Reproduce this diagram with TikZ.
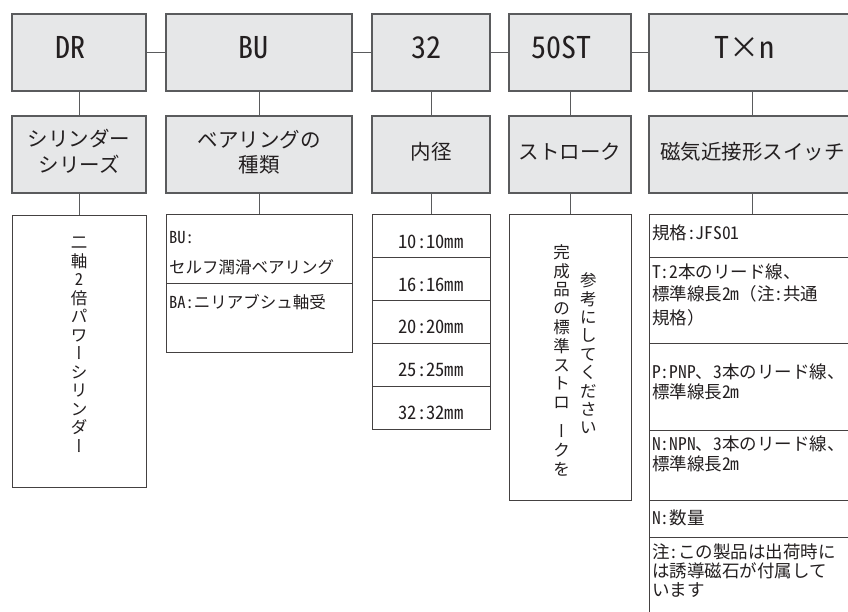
\documentclass[tikz,border=0pt]{standalone}
\usepackage{fontspec}
\usepackage{graphicx}
\setmainfont{Noto Sans CJK JP}
\newfontfamily\hwfont{Noto Sans CJK JP}[RawFeature=+hwid]
\newfontfamily\fwfont{Noto Sans CJK JP}[RawFeature=+fwid]
\newfontfamily\vtfont{Noto Sans CJK JP}[RawFeature=+vert]
\newcommand\hw[1]{{\hwfont #1}}
\newcommand\vchoon{{\vtfont ー}}
\definecolor{boxgray}{HTML}{E6E7E8}
\definecolor{edge}{HTML}{5A5B5D}
\definecolor{ink}{HTML}{231F20}
\begin{document}
\begin{tikzpicture}[x=1pt,y=-1pt,
  gbox/.style={draw=edge,fill=boxgray,line width=1.1pt,inner sep=0pt,outer sep=0pt,anchor=north west,minimum height=77pt},
  wbox/.style={draw=ink!85,fill=white,line width=1pt,inner sep=0pt,outer sep=0pt,anchor=north west},
  conn/.style={draw=edge,line width=1pt},
  divl/.style={draw=ink!85,line width=1pt},
  codet/.style={text=ink,inner sep=0pt,font=\fontsize{30}{32}\selectfont},
  namet/.style={text=ink,inner sep=0pt,align=center,font=\fontsize{20.5}{25.5}\selectfont},
  ln/.style={text=ink,inner sep=0pt,anchor=base west,font=\fontsize{17.5}{20}\selectfont},
  lnb/.style={text=ink,inner sep=0pt,anchor=base west,font=\fontsize{16.5}{20}\selectfont},
  dia/.style={text=ink,inner sep=0pt,font=\fontsize{18.5}{20}\selectfont},
  vstack/.style={text=ink,inner sep=0pt,align=center}]
\fill[white] (0,0) rectangle (848,611);
\clip (0,0) rectangle (848,611);
% top row
\node[gbox,minimum width=134pt] (dr) at (12,14) {};
\node[gbox,minimum width=186pt] (bu) at (166,14) {};
\node[gbox,minimum width=118pt] (bore) at (372,14) {};
\node[gbox,minimum width=122pt] (st) at (509,14) {};
\node[gbox,minimum width=207pt] (sw) at (649,14) {};
% second row
\node[gbox,minimum width=134pt] (drn) at (12,116) {};
\node[gbox,minimum width=186pt] (bun) at (166,116) {};
\node[gbox,minimum width=118pt] (boren) at (372,116) {};
\node[gbox,minimum width=122pt] (stn) at (509,116) {};
\node[gbox,minimum width=207pt] (swn) at (649,116) {};
% third row
\node[wbox,minimum width=134pt,minimum height=272pt] (drd) at (12,215) {};
\node[wbox,minimum width=186pt,minimum height=138pt] (bud) at (166,214) {};
\node[wbox,minimum width=118pt,minimum height=215.5pt] (bored) at (372,214) {};
\node[wbox,minimum width=122pt,minimum height=286pt] (std) at (509,214) {};
\node[wbox,minimum width=207pt,minimum height=420pt] (swd) at (649,214) {};
% dividers
\draw[divl] (166,283.3) -- (352,283.3);
\foreach \yy in {257,300,343,386.5} \draw[divl] (372,\yy) -- (490,\yy);
\foreach \yy in {257,343,430,500,537} \draw[divl] (649,\yy) -- (856,\yy);
% connectors
\draw[conn] (dr.east) -- (bu.west);
\draw[conn] (bu.east) -- (bore.west);
\draw[conn] (bore.east) -- (st.west);
\draw[conn] (st.east) -- (sw.west);
\foreach \a/\b in {dr/drn,bu/bun,bore/boren,st/stn,sw/swn} \draw[conn] (\a.south) -- (\b.north);
\foreach \a/\b in {drn/drd,bun/bud,boren/bored,stn/std,swn/swd} \draw[conn] (\a.south) -- (\b.north);
% top texts
\node[codet] (drt) at ([xshift=-9pt,yshift=5pt]dr.center) {\hw{DR}};
\node[codet] (but) at ([xshift=-6pt,yshift=5pt]bu.center) {\hw{BU}};
\node[codet] (boret) at ([xshift=-5pt,yshift=5pt]bore.center) {\hw{32}};
\node[codet] (stt) at ([xshift=-9pt,yshift=5pt]st.center) {\hw{50ST}};
\node[codet] (swt) at ([xshift=-8pt,yshift=5pt]sw.center) {\hw{T}{\fwfont ×}\hw{n}};
% second row texts
\node[namet] (drnt) at ([yshift=3pt]drn.center) {シリンダー\\シリーズ};
\node[namet] (bunt) at ([yshift=2.5pt]bun.center) {ベアリングの\\種類};
\node[namet] (borent) at ([yshift=2.5pt]boren.center) {内径};
\node[namet] (stnt) at ([yshift=2.5pt]stn.center) {ストローク};
\node[namet] (swnt) at ([yshift=2.5pt]swn.center) {磁気近接形スイッチ};
% DR detail (vertical)
\node[vstack,font={\fontsize{16.5}{18.5}\selectfont\lineskiplimit=-50pt}] (drdt) at (79,345)
  {二\\軸\\\hw{2}\\倍\\パ\\ワ\\\vchoon\\シ\\リ\\ン\\ダ\\\vchoon};
% BU detail
\node[lnb] (b1) at (169,243) {\hw{BU:}};
\node[lnb] (b2) at (169,273) {セルフ潤滑ベアリング};
\node[lnb] (b3) at (169,308) {\hw{BA:}ニリアブシュ軸受};
% bore detail
\node[dia] (c1) at (431,241.5) {\hw{10:10mm}};
\node[dia] (c2) at (431,284.5) {\hw{16:16mm}};
\node[dia] (c3) at (431,327) {\hw{20:20mm}};
\node[dia] (c4) at (431,370) {\hw{25:25mm}};
\node[dia] (c5) at (431,412.5) {\hw{32:32mm}};
% stroke detail (vertical)
\node[vstack,font={\fontsize{16.5}{18.8}\selectfont\lineskiplimit=-50pt}] (stl) at (561.5,360.2)
  {完\\成\\品\\の\\標\\準\\ス\\ト\\ロ\\[10pt]\vchoon\\ク\\を};
\node[vstack,font={\fontsize{16.5}{18.4}\selectfont\lineskiplimit=-50pt}] (str) at (588.3,353.4)
  {参\\考\\に\\し\\て\\く\\だ\\さ\\い};
% switch detail
\node[ln] (e1) at (652,239.6) {規格\hw{:JFS01}};
\node[ln] (e2) at (652,278.1) {\hw{T:2}本のリード線、};
\node[ln] (e3) at (652,300.6) {標準線長\hw{2m}（注\hw{:}共通};
\node[ln] (e4) at (652,324.6) {規格）};
\node[ln] (e5) at (652,378.6) {\hw{P:PNP}、\hw{3}本のリード線、};
\node[ln] (e6) at (652,398.6) {標準線長\hw{2m}};
\node[ln] (e7) at (652,450.6) {\hw{N:NPN}、\hw{3}本のリード線、};
\node[ln] (e8) at (652,470.6) {標準線長\hw{2m}};
\node[ln] (e9) at (652,524.6) {\hw{N:}数量};
\node[ln] (e10) at (652,558.6) {注\hw{:}この製品は出荷時に};
\node[ln] (e11) at (652,577.6) {は誘導磁石が付属して};
\node[ln] (e12) at (652,596.6) {います};
\end{tikzpicture}
\end{document}
